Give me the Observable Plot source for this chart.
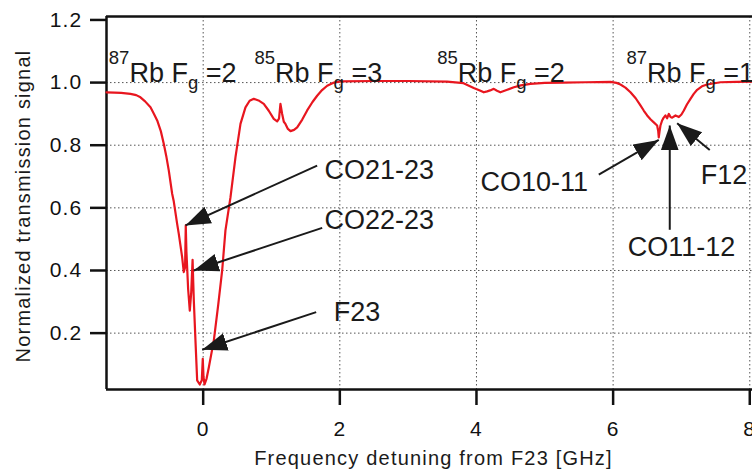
<!DOCTYPE html>
<html><head><meta charset="utf-8">
<script src="https://cdn.jsdelivr.net/npm/d3@7"></script>
<script src="https://cdn.jsdelivr.net/npm/@observablehq/plot@0.6"></script>
<style>
html,body{margin:0;padding:0;background:#fff;overflow:hidden;}
#chart svg g[aria-label="x-axis tick label"] text,
#chart svg g[aria-label="y-axis tick label"] text{letter-spacing:1.2px;}
</style></head><body><div id="chart"></div>
<script>
// Transmission trace (frequency in GHz, normalized signal)
const freq = [-1.415,-1.3,-1.2,-1.064,-0.98,-0.918,-0.85,-0.771,-0.72,-0.673,-0.62,-0.576,-0.54,-0.503,-0.454,-0.43,-0.381,-0.357,-0.308,-0.284,
  -0.265,-0.255,-0.245,-0.22,-0.196,-0.175,-0.155,-0.145,-0.137,-0.113,-0.088,-0.05,-0.02,-0.006,0.005,0.02,0.05,0.083,0.156,0.22,0.278,0.326,0.4,0.473,0.546,0.619,0.68,0.741,0.81,0.887,0.96,
  1.033,1.083,1.11,1.131,1.156,1.18,1.204,1.24,1.278,1.33,1.376,1.45,1.522,1.6,1.668,1.74,1.815,1.9,2.01,2.5,3.0,3.57,3.81,3.96,4.05,4.107,4.156,4.2,4.254,4.3,4.35,4.45,4.547,4.65,4.79,5.0,5.27,5.6,5.96,
  6.05,6.107,6.18,6.254,6.33,6.4,6.45,6.498,6.55,6.595,6.644,6.66,6.668,6.68,6.693,6.717,6.74,6.766,6.79,6.815,6.84,6.864,6.913,6.962,7.0,7.035,7.08,7.132,7.18,7.23,7.3,7.376,7.571,7.8,8.04];
const signal = [0.969,0.968,0.967,0.964,0.96,0.953,0.94,0.921,0.90,0.879,0.845,0.804,0.765,0.719,0.645,0.62,0.549,0.517,0.443,0.395,
  0.41,0.544,0.46,0.34,0.272,0.33,0.434,0.36,0.304,0.177,0.049,0.036,0.05,0.118,0.06,0.036,0.055,0.091,0.177,0.29,0.40,0.528,0.634,0.762,0.868,0.921,0.942,0.948,0.943,0.932,0.91,
  0.884,0.876,0.885,0.932,0.9,0.875,0.868,0.852,0.845,0.849,0.857,0.882,0.911,0.938,0.958,0.976,0.99,0.999,1.004,1.005,1.005,1.003,0.998,0.983,0.975,0.969,0.972,0.975,0.98,0.974,0.969,0.977,0.985,0.991,0.996,0.999,1.0,1.001,1.002,
  0.999,0.994,0.984,0.969,0.95,0.927,0.91,0.895,0.882,0.873,0.863,0.845,0.825,0.845,0.863,0.879,0.888,0.895,0.886,0.9,0.89,0.888,0.895,0.89,0.898,0.911,0.93,0.948,0.964,0.977,0.988,0.994,1.001,1.002,1.003];

const xTicks = [0, 2, 4, 6, 8];
const yTicks = [0.2, 0.4, 0.6, 0.8, 1.0, 1.2];
const yGrid = [0.2, 0.4, 0.6, 0.8, 1.0];

// Arrow annotations (data coordinates)
const arrowLabels = ["CO21-23", "CO22-23", "F23", "CO10-11", "CO11-12", "F12"];
const arrowTailX = [1.668, 1.742, 1.654, 5.79, 6.829, 7.414];
const arrowTailY = [0.735, 0.536, 0.267, 0.706, 0.530, 0.785];
const arrowTipX  = [-0.259, -0.138, -0.015, 6.668, 6.829, 6.937];
const arrowTipY  = [0.544, 0.400, 0.147, 0.817, 0.863, 0.870];
const labelX = [1.776, 1.776, 1.911, 4.058, 6.214, 7.281];
const labelY = [0.721, 0.561, 0.267, 0.682, 0.473, 0.703];

// Isotope / ground-state labels
const isoMass = ["87", "85", "85", "87"];
const isoFg = ["2", "3", "2", "1"];
const isoX = [-1.381, 0.751, 3.425, 6.195];
const isoY = [1.030, 1.030, 1.030, 1.030];

const xLabel = "Frequency detuning from F23 [GHz]";
const yLabel = "Normalized transmission signal";

const rows = freq.map((f, i) => ({f, s: signal[i]}));
const arrows = arrowLabels.map((t, i) => ({t, x1: arrowTailX[i], y1: arrowTailY[i], x2: arrowTipX[i], y2: arrowTipY[i], tx: labelX[i], ty: labelY[i]}));
const isos = isoMass.map((m, i) => ({m, fg: isoFg[i], x: isoX[i], y: isoY[i]}));
const xDom = [-1.415, 8.04], yDom = [0.02, 1.211];
const font = "'Liberation Sans', Arial, Helvetica, sans-serif";

const chart = Plot.plot({
  width: 752, height: 473,
  marginLeft: 106, marginRight: 0, marginTop: 16, marginBottom: 84,
  x: {domain: xDom}, y: {domain: yDom},
  style: {fontFamily: font, background: "white", overflow: "visible", color: "#111"},
  marks: [
    Plot.gridX(xTicks, {stroke: "#555", strokeOpacity: 1, strokeWidth: 1, strokeDasharray: "1.5,2.5"}),
    Plot.gridY(yGrid, {stroke: "#555", strokeOpacity: 1, strokeWidth: 1, strokeDasharray: "1.5,2.5"}),
    Plot.axisX(xTicks, {tickSize: 16, tickPadding: 16, fontSize: 21, strokeWidth: 2.5, label: null, tickFormat: d => String(d)}),
    Plot.axisY(yTicks, {tickSize: 16, tickPadding: 8, fontSize: 21, strokeWidth: 2.5, label: null, tickFormat: d3.format(".1f")}),
    Plot.ruleX([xDom[0]], {strokeWidth: 2.5}),
    Plot.ruleY([yDom[1]], {strokeWidth: 2.5}),
    Plot.ruleY([yDom[0]], {strokeWidth: 2.5}),
    Plot.line(rows, {x: "f", y: "s", stroke: "#e8161f", strokeWidth: 2.2}),
    Plot.link(arrows, {x1: "x1", y1: "y1", x2: "x2", y2: "y2", stroke: "#1a1a1a", strokeWidth: 2}),
    Plot.text(arrows, {x: "tx", y: "ty", text: "t", textAnchor: "start", fontSize: 27, fill: "#1a1a1a"}),
    Plot.text(isos, {x: "x", y: "y", text: d => `${d.m}Rb Fg =${d.fg}`, textAnchor: "start", fontSize: 27, fill: "#1a1a1a"}),
    Plot.text([yLabel], {frameAnchor: "left", textAnchor: "middle", lineAnchor: "middle", rotate: -90, dx: -83, dy: 3, fontSize: 20, text: d => d, fill: "#1a1a1a"}),
    Plot.text([xLabel], {frameAnchor: "bottom", textAnchor: "middle", lineAnchor: "middle", dy: 69, dx: 4, fontSize: 20, text: d => d, fill: "#1a1a1a"})
  ]
});
document.getElementById("chart").appendChild(chart);

const svg = d3.select(chart);
// filled arrowheads
const defs = svg.insert("defs", ":first-child");
defs.append("marker").attr("id", "ah").attr("viewBox", "0 -10 25 20")
  .attr("refX", 25).attr("refY", 0).attr("markerWidth", 25).attr("markerHeight", 20)
  .attr("markerUnits", "userSpaceOnUse").attr("orient", "auto")
  .append("path").attr("d", "M0,-9 L25,0 L0,9 Z").attr("fill", "#1a1a1a");
svg.selectAll('g[aria-label="link"] path').attr("marker-end", "url(#ah)");

// rich text for isotope labels and letter spacing for axis titles
svg.selectAll("text").each(function() {
  const t = this.textContent;
  if (t === xLabel || t === yLabel) { d3.select(this).style("letter-spacing", "1.2px"); return; }
  const m = t.match(/^(\d+)Rb Fg =(\d)$/);
  if (!m) return;
  const s = d3.select(this);
  s.attr("dy", null).text("");
  s.append("tspan").attr("font-size", 18.5).attr("dy", -17.5).text(m[1]);
  s.append("tspan").attr("font-size", 27).attr("dy", 17.5).text("Rb F");
  s.append("tspan").attr("font-size", 18.5).attr("dy", 7).text("g");
  s.append("tspan").attr("font-size", 27).attr("dy", -7).text(" =" + m[2]);
});
</script></body></html>
